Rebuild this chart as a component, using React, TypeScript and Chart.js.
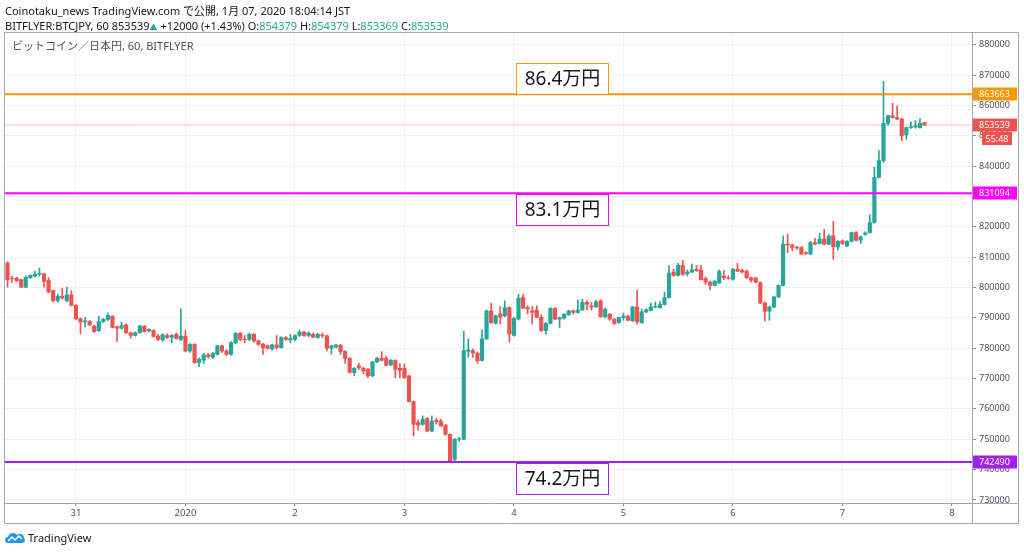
import React, { useEffect, useRef } from "react";
import { Chart, registerables } from "chart.js";

Chart.register(...registerables);

// Hourly candles (JST). Hour index counted from 2019-12-31 00:00; first candle = Dec 30 09:00.
const FIRST_HOUR = -15;

const opens = [
  808100, 803000, 803100, 802600, 800100, 803200, 803800, 804400, 804500, 802300,
  799000, 795700, 797100, 795700, 797600, 794100, 789700, 788700, 788900, 787300,
  785800, 788800, 789500, 790500, 787100, 786600, 787700, 785100, 784200, 785100,
  787300, 785700, 785900, 784000, 782700, 784200, 783600, 784600, 782900, 784000,
  779100, 781300, 775300, 776100, 777800, 777000, 778000, 780800, 779100, 778000,
  781800, 784900, 783000, 782900, 784600, 782400, 781300, 780800, 779700, 781100,
  780200, 783500, 782700, 782900, 784200, 785300, 784200, 784600, 783500, 784400,
  784100, 780000, 780400, 781000, 778900, 776700, 772000, 774200, 773400, 773100,
  770900, 775500, 776700, 776700, 774500, 776000, 773400, 773400, 770900, 762400,
  755500, 754900, 756900, 752700, 756300, 756000, 754700, 751600, 743400, 750000,
  750000, 779000, 779200, 778400, 776000, 783100, 792300, 788200, 791300, 790700,
  793400, 784200, 789600, 796700, 793400, 792300, 792600, 790200, 785800, 788200,
  793100, 789600, 789900, 791000, 792300, 791800, 792600, 795100, 794000, 793700,
  795600, 790400, 791200, 789600, 788500, 790100, 790500, 789000, 793600, 788400,
  792000, 792500, 793600, 793400, 794400, 796700, 805100, 804000, 807300, 804500,
  805100, 806000, 805800, 802900, 801800, 800700, 801500, 803800, 803200, 802700,
  806000, 805600, 805400, 803200, 803100, 801600, 794900, 792200, 793600, 796900,
  800700, 814300, 814000, 813300, 813200, 811500, 811000, 814800, 814500, 816000,
  814300, 817000, 813400, 815400, 813700, 815200, 818100, 815600, 817500, 818100,
  821400, 836300, 841800, 854100, 856600, 856000, 855500, 850300, 852700, 852900,
  852700, 854379,
];

const highs = [
  808500, 803800, 803400, 802800, 803800, 804200, 805300, 806400, 804800, 803300,
  799200, 797800, 799800, 800100, 799000, 794300, 790000, 790200, 789100, 787600,
  790500, 789800, 791700, 790800, 787300, 788600, 788000, 785300, 785400, 787600,
  787500, 786400, 786100, 784500, 784800, 784800, 784500, 785000, 793000, 785900,
  781500, 781500, 776800, 778300, 778200, 778600, 781000, 781000, 779500, 782200,
  785200, 785200, 784200, 785000, 784800, 782700, 781600, 781100, 781400, 784200,
  783800, 783800, 784600, 784500, 786000, 785600, 785400, 785000, 785000, 785000,
  784300, 781000, 781300, 781300, 779200, 776900, 773600, 775000, 773700, 773300,
  775700, 777000, 778900, 777400, 776300, 776200, 774900, 774900, 771100, 762600,
  756300, 757700, 757200, 757700, 757000, 756600, 754900, 751800, 750300, 750600,
  785600, 783100, 779800, 778800, 786100, 792600, 794800, 790900, 793700, 795600,
  793700, 790100, 797800, 797800, 794000, 793700, 794000, 791000, 788500, 793400,
  793400, 790300, 791400, 792500, 792600, 795900, 796100, 795600, 795100, 795800,
  796000, 793200, 791500, 789900, 790300, 791600, 790900, 793800, 799100, 793000,
  793000, 794900, 795200, 795400, 798500, 807200, 806000, 808000, 809000, 805800,
  807800, 807300, 807300, 803500, 802100, 802300, 805800, 805600, 803900, 806300,
  808000, 806000, 805800, 803500, 803400, 801900, 795200, 793900, 797200, 800900,
  817000, 817600, 814300, 813600, 813500, 811800, 815200, 816200, 817900, 819200,
  817400, 821800, 815500, 815700, 815500, 818300, 818400, 817000, 818400, 824000,
  839600, 845100, 867900, 856800, 860700, 859900, 855800, 852900, 854600, 855000,
  855700, 854379,
];

const lows = [
  800100, 801700, 802000, 800000, 799900, 803000, 803500, 803800, 800100, 798300,
  795200, 795200, 796200, 795200, 793900, 789500, 784700, 786900, 787400, 785200,
  785500, 788500, 789200, 786700, 782200, 786300, 784900, 783300, 784000, 784900,
  785300, 785400, 783600, 782500, 782300, 783200, 781800, 783000, 782500, 778800,
  778600, 775000, 773900, 775000, 776700, 776600, 777700, 778600, 777600, 777600,
  781500, 782400, 781800, 782500, 782000, 780900, 778000, 779700, 779400, 779800,
  780000, 782600, 781800, 782500, 783900, 783900, 783800, 783400, 783300, 783500,
  779100, 778000, 780100, 778000, 775000, 771800, 770900, 773000, 771600, 770300,
  770600, 775200, 775800, 774200, 774300, 770300, 770300, 770000, 762200, 751100,
  753000, 754600, 752500, 752500, 755000, 754200, 751400, 742800, 742490, 749300,
  749800, 777000, 777000, 775000, 775700, 782800, 788200, 788000, 788000, 790400,
  782000, 784000, 789300, 793000, 791300, 788000, 790000, 785500, 784700, 788000,
  789400, 786800, 789600, 790800, 791300, 791500, 792400, 792600, 792600, 793400,
  790200, 790000, 789200, 787800, 788200, 789200, 789000, 788800, 788000, 788200,
  791700, 792300, 793300, 793200, 794200, 796500, 803700, 803800, 804000, 803800,
  804900, 805300, 802400, 801000, 799300, 800500, 801300, 802600, 802700, 802400,
  805200, 804800, 803000, 801800, 801500, 794700, 789000, 789200, 793400, 796700,
  800500, 811500, 812100, 812600, 810800, 810900, 810800, 814000, 814300, 814000,
  814100, 809300, 812300, 814200, 813500, 815000, 815300, 814500, 817200, 817900,
  821200, 836000, 841200, 853500, 855800, 855300, 848400, 848900, 852400, 852500,
  852500, 853369,
];

const closes = [
  802600, 802900, 802200, 800100, 803400, 804000, 804400, 804700, 802000, 798500,
  795700, 797100, 796500, 797600, 794100, 789700, 788600, 789000, 787700, 785500,
  788800, 789500, 790800, 786900, 786600, 787500, 785100, 784200, 785100, 787300,
  785500, 786200, 783900, 782900, 784400, 783500, 784200, 783200, 784000, 779100,
  781300, 775300, 776400, 777800, 777200, 778300, 780800, 779100, 778000, 781800,
  784900, 782900, 782800, 784600, 782400, 781300, 780200, 780000, 781100, 780200,
  783500, 782900, 783200, 784200, 785300, 784200, 785000, 783600, 784600, 784200,
  780000, 780800, 781000, 778900, 776700, 772000, 773400, 773600, 772500, 770900,
  775500, 776700, 776000, 774400, 776000, 773100, 772700, 770300, 762400, 754900,
  754700, 756600, 752700, 756000, 755800, 754400, 751600, 742900, 750000, 750200,
  779200, 779500, 778400, 775800, 783100, 792300, 788500, 790700, 790200, 793400,
  784700, 789800, 796500, 793200, 792900, 791800, 790200, 785800, 788200, 793100,
  789600, 790100, 791200, 792300, 791800, 792600, 795100, 794500, 793600, 795300,
  790400, 792900, 789600, 788200, 790100, 790600, 789200, 793600, 788700, 792000,
  792700, 793600, 793800, 794400, 796700, 804800, 804000, 807300, 804300, 805100,
  805800, 805600, 802600, 801800, 800700, 802100, 805300, 803200, 803000, 806000,
  805400, 805100, 803200, 802400, 801800, 794900, 792200, 793600, 796900, 800700,
  814300, 814000, 813200, 813000, 811000, 811200, 814800, 814300, 816000, 814300,
  817000, 813400, 815200, 814500, 815200, 818100, 815600, 816700, 818000, 821400,
  836300, 841800, 854100, 856600, 856000, 855500, 850000, 852700, 853000, 853300,
  854100, 853539,
];

const dayTickHours = [0, 24, 48, 72, 96, 120, 144, 168, 192];
const dayTickLabels = ["31", "2020", "2", "3", "4", "5", "6", "7", "8"];
const priceTicks = [
  730000, 740000, 750000, 760000, 770000, 780000, 790000, 800000,
  810000, 820000, 830000, 840000, 850000, 860000, 870000, 880000,
];

const levelValues = [863663, 831094, 742490];
const levelTexts = ["86.4万円", "83.1万円", "74.2万円"];
const levelBoxHours = [96.4, 116.7];
const countdownText = "55:48";
const dayChange = "+12000 (+1.43%)";

// ---- styles ----
const UP = "#26a69a";
const DOWN = "#ef5350";
const LEVEL_COLORS = ["#ff9800", "#ff00ff", "#a020f0"];
const LEVEL_BOX_ABOVE = [true, false, false];
const FONT = '"Noto Sans", "Noto Sans CJK JP", sans-serif';
const X_MIN = -15.55;
const X_MAX = 196.4;

const hours = opens.map((_, i) => FIRST_HOUR + i);
const lastIdx = closes.length - 1;
const lastPrice = closes[lastIdx];

const overlayPlugin = {
  id: "overlay",
  beforeDraw(chart: any) {
    const { ctx } = chart;
    ctx.save();
    ctx.fillStyle = "#ffffff";
    ctx.fillRect(0, 0, chart.width, chart.height);
    ctx.restore();
  },
  afterDatasetsDraw(chart: any) {
    const { ctx, chartArea: a, scales } = chart;
    const x = scales.x;
    const y = scales.y;
    ctx.save();
    // title inside pane
    ctx.font = `11px ${FONT}`;
    ctx.fillStyle = "#50535e";
    ctx.textBaseline = "middle";
    ctx.textAlign = "left";
    ctx.fillText("ビットコイン／日本円, 60, BITFLYER", a.left + 7, a.top + 15);

    // level annotation boxes
    const bx0 = Math.round(x.getPixelForValue(levelBoxHours[0])) + 0.5;
    const bx1 = Math.round(x.getPixelForValue(levelBoxHours[1])) + 0.5;
    levelValues.forEach((v, i) => {
      const ly = y.getPixelForValue(v);
      const h = 31;
      const top = LEVEL_BOX_ABOVE[i] ? ly - h : ly + 1;
      ctx.fillStyle = "#ffffff";
      ctx.fillRect(bx0, top, bx1 - bx0, h);
      ctx.strokeStyle = LEVEL_COLORS[i];
      ctx.lineWidth = 1;
      ctx.strokeRect(bx0, Math.round(top) + 0.5, bx1 - bx0, h);
      ctx.fillStyle = "#131722";
      ctx.font = `19px ${FONT}`;
      ctx.textAlign = "center";
      ctx.textBaseline = "middle";
      ctx.fillText(levelTexts[i], (bx0 + bx1) / 2, top + h / 2 + 1);
    });
    ctx.restore();
  },
  afterDraw(chart: any) {
    const { ctx, chartArea: a, scales } = chart;
    const y = scales.y;
    const right = chart.width - 5;
    const axisBottom = a.bottom + 20;
    ctx.save();
    ctx.strokeStyle = "#a3a6af";
    ctx.lineWidth = 1;
    ctx.beginPath();
    ctx.rect(a.left - 0.5, a.top + 0.5, right - a.left, axisBottom - a.top);
    ctx.moveTo(a.right + 0.5, a.top);
    ctx.lineTo(a.right + 0.5, axisBottom);
    ctx.moveTo(a.left, a.bottom + 0.5);
    ctx.lineTo(right, a.bottom + 0.5);
    ctx.stroke();

    // price-axis value labels
    const tag = (v: number, color: string, text?: string) => {
      const ty = y.getPixelForValue(v);
      ctx.fillStyle = color;
      ctx.fillRect(a.right + 1, Math.round(ty) - 6.5, right - a.right - 3, 13);
      ctx.fillStyle = "#ffffff";
      ctx.font = `9px ${FONT}`;
      ctx.textAlign = "left";
      ctx.textBaseline = "middle";
      ctx.fillText(text ?? String(v), a.right + 7, Math.round(ty) + 0.5);
      return ty;
    };
    levelValues.forEach((v, i) => tag(v, LEVEL_COLORS[i]));
    const py = tag(lastPrice, DOWN);
    ctx.fillStyle = DOWN;
    ctx.fillRect(a.right + 10, Math.round(py) + 7, 30, 13);
    ctx.fillStyle = "#ffffff";
    ctx.textAlign = "center";
    ctx.fillText(countdownText, a.right + 25, Math.round(py) + 14);
    ctx.restore();
  },
};

function CandleChart() {
  const ref = useRef<HTMLCanvasElement | null>(null);
  useEffect(() => {
    document.body.style.margin = "0";
    if (!ref.current) return;
    const wicks = hours.map((h, i) => ({ x: h, y: [lows[i], highs[i]] }));
    const bodies = hours.map((h, i) => ({ x: h, y: [opens[i], closes[i]] }));
    const colors = hours.map((_, i) => (closes[i] >= opens[i] ? UP : DOWN));
    const levelLine = (v: number) => [
      { x: X_MIN, y: v },
      { x: X_MAX, y: v },
    ];
    const chart = new Chart(ref.current, {
      type: "bar",
      data: {
        datasets: [
          ...levelValues.map((v, i) => ({
            type: "line" as const,
            data: levelLine(v),
            borderColor: LEVEL_COLORS[i],
            borderWidth: 2,
            pointRadius: 0,
            order: 0,
          })),
          {
            type: "line" as const,
            data: levelLine(lastPrice),
            borderColor: "rgba(239,83,80,0.35)",
            borderWidth: 1,
            pointRadius: 0,
            order: 3,
          },
          {
            type: "bar" as const,
            data: wicks as any,
            backgroundColor: colors,
            barThickness: 1,
            grouped: false,
            order: 2,
          },
          {
            type: "bar" as const,
            data: bodies as any,
            backgroundColor: colors,
            barThickness: 3.5,
            grouped: false,
            order: 1,
          },
        ],
      },
      options: {
        responsive: false,
        animation: false,
        events: [],
        layout: { padding: { left: 5, top: 32, right: 5, bottom: 29 } },
        plugins: { legend: { display: false }, tooltip: { enabled: false } },
        scales: {
          x: {
            type: "linear",
            min: X_MIN,
            max: X_MAX,
            offset: false,
            afterFit: (s: any) => {
              s.height = 20;
            },
            afterBuildTicks: (s: any) => {
              s.ticks = dayTickHours.map((v) => ({ value: v }));
            },
            ticks: {
              autoSkip: false,
              maxRotation: 0,
              padding: 2,
              color: "#4c525e",
              font: { size: 9.5, family: FONT },
              callback: (v: any) => dayTickLabels[dayTickHours.indexOf(Number(v))] ?? "",
            },
            grid: {
              offset: false,
              color: "#eef1f6",
              tickColor: "#8a8d96",
              tickLength: 3,
            },
            border: { display: false },
          },
          y: {
            position: "right",
            min: 729000,
            max: 884200,
            afterFit: (s: any) => {
              s.width = 47;
            },
            afterBuildTicks: (s: any) => {
              s.ticks = priceTicks.map((v) => ({ value: v }));
            },
            ticks: {
              padding: 3,
              color: "#4c525e",
              font: { size: 9, family: FONT },
              callback: (v: any) => String(v),
            },
            grid: {
              color: "#eef1f6",
              tickColor: "#8a8d96",
              tickLength: 4,
            },
            border: { display: false },
          },
        },
      } as any,
      plugins: [overlayPlugin],
    });
    return () => chart.destroy();
  }, []);
  return <canvas ref={ref} width={1024} height={552} style={{ display: "block" }} />;
}

export default function App() {
  const teal = { color: UP };
  return (
    <div style={{ position: "relative", width: 1024, height: 552, background: "#fff", overflow: "hidden" }}>
      <CandleChart />
      <div
        style={{
          position: "absolute",
          left: 5,
          top: 3,
          font: `11px ${FONT}`,
          lineHeight: "15px",
          color: "#131722",
          whiteSpace: "nowrap",
        }}
      >
        <div>Coinotaku_news TradingView.com で公開, 1月 07, 2020 18:04:14 JST</div>
        <div>
          BITFLYER:BTCJPY, 60 {lastPrice}
          <span style={{ color: UP, fontSize: 8 }}>▲</span> {dayChange} O:
          <span style={teal}>{opens[lastIdx]}</span> H:<span style={teal}>{highs[lastIdx]}</span> L:
          <span style={teal}>{lows[lastIdx]}</span> C:<span style={teal}>{closes[lastIdx]}</span>
        </div>
      </div>
      <div
        style={{
          position: "absolute",
          left: 5,
          top: 530,
          display: "flex",
          alignItems: "center",
          font: `11px ${FONT}`,
          color: "#131722",
        }}
      >
        <svg width="20" height="13" viewBox="0 0 20 13" style={{ marginRight: 3 }}>
          <path
            d="M3 12 Q0 12 0 9 Q0 6 3 6 Q4 2 8 2 Q11 2 12 4 Q14 2 16 3 Q19 4 19 7 Q20 8 20 10 Q19 12 17 12 Z"
            fill="#2196f3"
          />
          <polyline points="3,10 7,6 10,9 14,5 17,8" stroke="#ffffff" strokeWidth="1.5" fill="none" />
        </svg>
        <span>TradingView</span>
      </div>
    </div>
  );
}
